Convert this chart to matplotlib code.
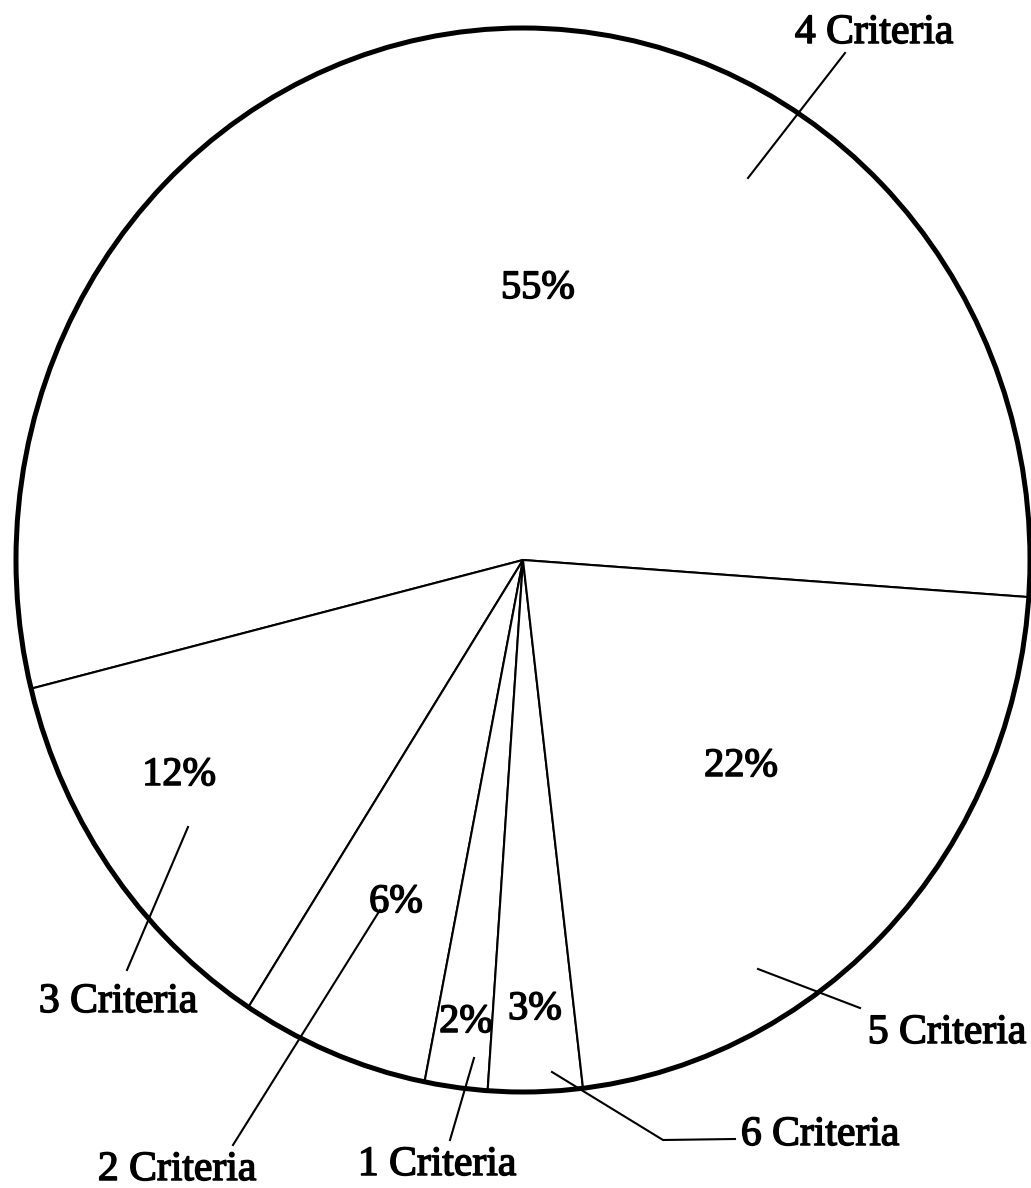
import matplotlib.pyplot as plt
from matplotlib.patches import Circle
import matplotlib.patheffects as pe

# data (percent of programs by number of criteria met)
labels = ["4 Criteria", "3 Criteria", "2 Criteria", "1 Criteria", "6 Criteria", "5 Criteria"]
values = [55, 12, 6, 2, 3, 22]
pct_text = ["55%", "12%", "6%", "2%", "3%", "22%"]

W, H = 1031, 1188
fig = plt.figure(figsize=(W / 100, H / 100), dpi=100)
ax = fig.add_axes([0, 0, 1, 1])

# pie center sits at pixel (523, 560); ellipse radii 507 x 532 px
cx, cy, rx, ry = 523, 560, 507, 532

ax.pie(values, startangle=-4, counterclock=True,
       colors=["white"] * len(values),
       wedgeprops=dict(edgecolor="black", linewidth=1.5))
ax.set_aspect("auto")
ax.set_xlim(-cx / rx, (W - cx) / rx)
ax.set_ylim(-(H - cy) / ry, cy / ry)
ax.add_patch(Circle((0, 0), 1.0, fill=False, edgecolor="black", linewidth=3.6, zorder=5))
ax.axis("off")


def px(x, y):
    return x / W, 1 - y / H


font = ["Liberation Serif", "DejaVu Serif"]
thick = [pe.withStroke(linewidth=1.1, foreground="black")]

# percentage labels (pixel position of baseline centre)
pct_pos = [(538, 298), (179, 785), (396, 912), (466, 1032), (535, 1019), (741, 776)]
for t, (x, y) in zip(pct_text, pct_pos):
    fig.text(*px(x, y), t, fontsize=29, family=font, ha="center", va="baseline",
             path_effects=thick)

# criteria labels
lab_pos = [(874, 43), (118, 1012), (177, 1180), (437, 1175), (820, 1145), (947, 1043)]
for t, (x, y) in zip(labels, lab_pos):
    fig.text(*px(x, y), t, fontsize=30, family=font, ha="center", va="baseline",
             path_effects=thick)

# leader lines
leaders = [
    [(845, 53), (748, 178)],
    [(127, 970), (188, 827)],
    [(233, 1145), (380, 910)],
    [(450, 1140), (474, 1058)],
    [(735, 1139), (663, 1140), (552, 1072)],
    [(860, 1008), (758, 969)],
]
for pts in leaders:
    xs = [p[0] / W for p in pts]
    ys = [1 - p[1] / H for p in pts]
    fig.add_artist(plt.Line2D(xs, ys, color="black", linewidth=1.5,
                              transform=fig.transFigure))

fig.savefig("out.png", dpi=100, facecolor="white")
